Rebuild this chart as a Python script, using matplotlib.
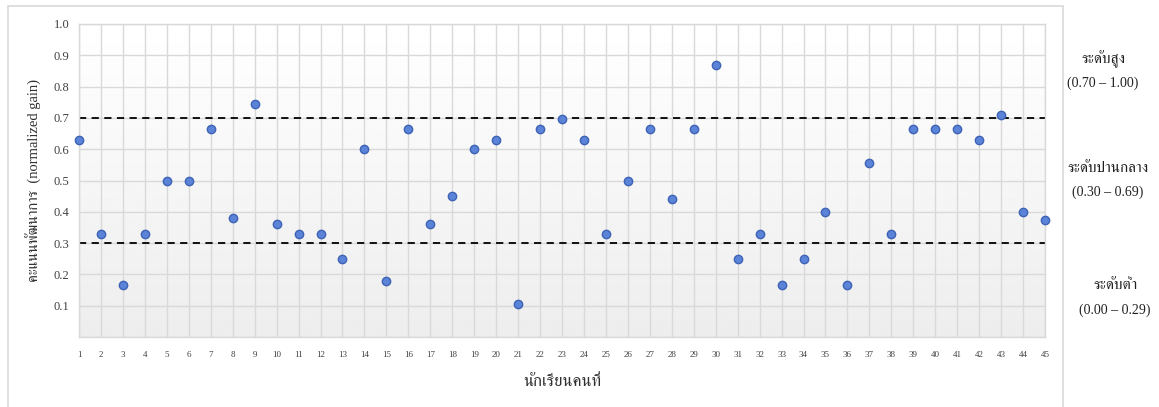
import numpy as np
import matplotlib
matplotlib.use('Agg')
import matplotlib.pyplot as plt
from matplotlib.patches import Rectangle

plt.rcParams['font.family'] = ['Liberation Serif', 'FreeSerif', 'DejaVu Sans']

# normalized gain of each student
students = list(range(1, 46))
gains = [0.63, 0.33, 0.165, 0.33, 0.50, 0.50, 0.665, 0.38, 0.745, 0.36,
         0.33, 0.33, 0.25, 0.60, 0.18, 0.665, 0.36, 0.45, 0.60, 0.63,
         0.105, 0.665, 0.695, 0.63, 0.33, 0.50, 0.665, 0.44, 0.665, 0.87,
         0.25, 0.33, 0.165, 0.25, 0.40, 0.165, 0.555, 0.33, 0.665, 0.665,
         0.665, 0.63, 0.71, 0.40, 0.375]
thresholds = [0.3, 0.7]
y_ticks = [0.1, 0.2, 0.3, 0.4, 0.5, 0.6, 0.7, 0.8, 0.9, 1.0]
level_names = ['ระดับสูง', 'ระดับปานกลาง', 'ระดับต่ำ']
level_ranges = ['(0.70 – 1.00)', '(0.30 – 0.69)', '(0.00 – 0.29)']
level_mid = [0.85, 0.50, 0.125]

W, H = 1159, 407
fig = plt.figure(figsize=(W / 100, H / 100), dpi=100)

# outer chart frame
fig.patches.append(Rectangle((8 / W, -0.05), (1063 - 8) / W, 1.05 - 6 / H,
                             transform=fig.transFigure, fill=False,
                             edgecolor='#d9d9d9', linewidth=1.2))

ax = fig.add_axes([79 / W, 1 - 337 / H, (1045 - 79) / W, (337 - 24) / H])
ax.set_xlim(1, 45)
ax.set_ylim(0, 1)

# gradient background: white at top, light grey at bottom
grad = np.linspace(0.93, 1.0, 256).reshape(-1, 1)
ax.imshow(grad, extent=(1, 45, 0, 1), origin='lower', aspect='auto',
          cmap='gray', vmin=0, vmax=1, zorder=0)

ax.set_xticks(students)
ax.set_yticks([0.0] + y_ticks)
ax.set_yticklabels([''] + ['%.1f' % v for v in y_ticks])
ax.grid(True, color='#d9d9d9', linewidth=1.0, zorder=1)
ax.set_axisbelow(True)
for s in ax.spines.values():
    s.set_color('#d9d9d9')
    s.set_linewidth(1.0)
ax.tick_params(axis='both', length=0, colors='#404040')
ax.tick_params(axis='x', labelsize=6.5, pad=10)
ax.tick_params(axis='y', labelsize=9, pad=7)

for t in thresholds:
    ax.axhline(t, color='black', linestyle=(0, (4, 3)), linewidth=1.3, zorder=2)

ax.scatter(students, gains, s=36, facecolor='#5b84d8', edgecolor='#3e63b5',
           linewidth=1.0, zorder=3, clip_on=False)

ax.set_xlabel('นักเรียนคนที่', fontsize=12, labelpad=11, color='#303030')
ax.set_ylabel('คะแนนพัฒนาการ  (normalized gain)', fontsize=10.5, labelpad=8,
              color='#303030')

for name, rng, yv, xpx in zip(level_names, level_ranges, level_mid,
                              [1103, 1108, 1115]):
    ytxt = ax.transData.transform((1, yv))[1] / H
    fig.text(xpx / W, ytxt + 0.03, name, ha='center', va='center',
             fontsize=11, color='#202020')
    fig.text(xpx / W, ytxt - 0.03, rng, ha='center', va='center',
             fontsize=10, color='#202020')

fig.savefig('out.png', dpi=100)
